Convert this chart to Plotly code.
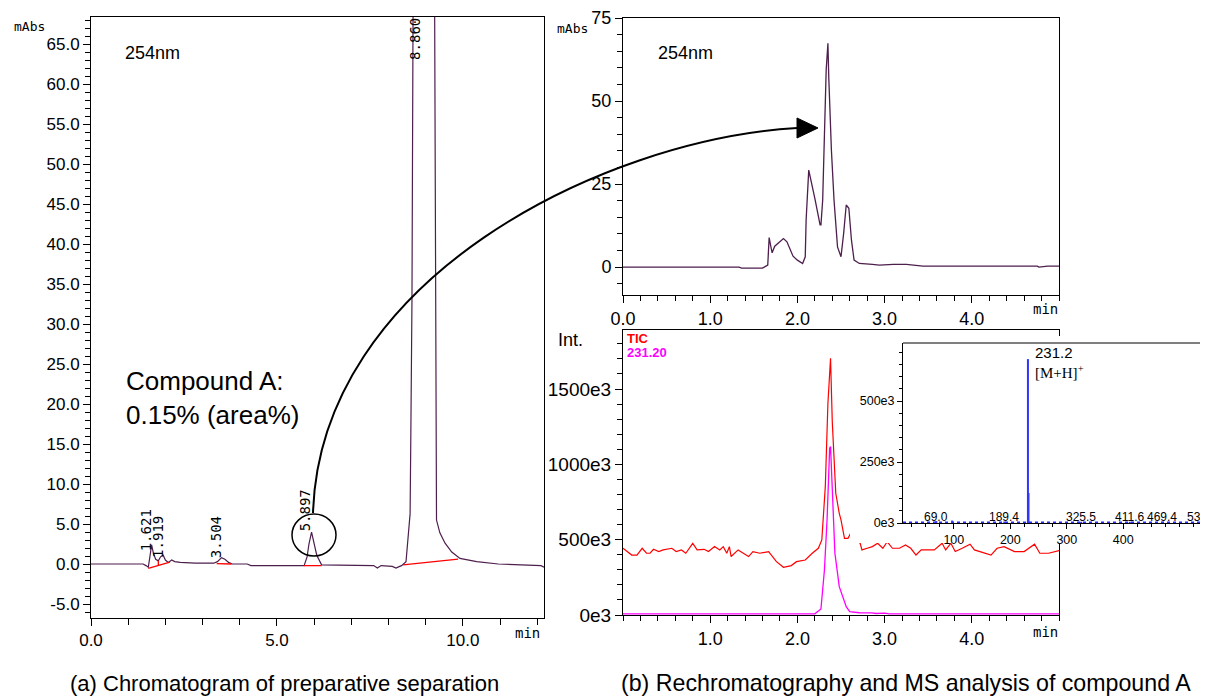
import plotly.graph_objects as go

# ---------------- data ----------------
# (a) preparative chromatogram, 254 nm
left_time = [0.00, 1.40, 1.48, 1.54, 1.58, 1.63, 1.68, 1.74, 1.81, 1.87,
             1.94, 2.00, 2.08, 2.17, 2.25, 2.40, 2.80, 3.30, 3.40, 3.51,
             3.60, 3.70, 3.80, 4.20, 4.30, 5.73, 5.81, 5.86, 5.93, 5.98,
             6.07, 6.20, 7.60, 7.70, 7.80, 8.10, 8.20, 8.30, 8.35, 8.47,
             8.51, 8.58, 8.60, 8.63, 8.66, 8.72, 8.86, 9.05, 9.20, 9.25,
             9.27, 9.29, 9.38, 9.52, 9.70, 9.92, 10.37, 10.95, 12.10, 12.18]
left_abs = [0.0, 0.0, -0.2, -0.4, 0.8, 2.4, 1.3, 0.6, 0.4, 0.9,
            1.1, 0.5, 0.2, 0.5, 0.3, 0.2, 0.1, 0.1, 0.3, 0.8,
            0.6, 0.2, 0.0, 0.0, -0.2, -0.2, 0.9, 2.5, 4.0, 2.8,
            1.1, -0.1, -0.2, -0.5, -0.2, -0.3, -0.5, -0.3, -0.2, 0.3,
            2.2, 6.3, 16.4, 33.0, 70.0, 180.0, 600.0, 420.0, 120.0, 45.0,
            8.0, 5.5, 3.9, 2.6, 1.5, 0.7, 0.3, 0.0, -0.2, -0.4]
# integration baselines (start t, start y, end t, end y)
base_t0 = [1.54, 3.38, 5.72, 8.39]
base_y0 = [-0.55, 0.05, -0.2, -0.1]
base_t1 = [2.12, 3.78, 6.20, 9.87]
base_y1 = [0.25, 0.0, -0.2, 0.6]
drop_t = [1.81]
drop_lo = [-0.18]
drop_hi = [0.4]
peak_rt = [1.621, 1.919, 3.504, 5.897, 8.860]
peak_label_y = [4.25, 3.44, 3.4, 6.75, 65.6]
left_yticks = [-5.0, 0.0, 5.0, 10.0, 15.0, 20.0, 25.0, 30.0, 35.0, 40.0,
               45.0, 50.0, 55.0, 60.0, 65.0]
left_xticks = [0.0, 5.0, 10.0]

# (b) rechromatography UV 254 nm
uv_time = [0.00, 1.33, 1.36, 1.60, 1.66, 1.676, 1.70, 1.71, 1.74, 1.84,
           1.88, 1.95, 2.00, 2.06, 2.09, 2.10, 2.13, 2.16, 2.20, 2.26,
           2.27, 2.29, 2.31, 2.33, 2.35, 2.36, 2.39, 2.42, 2.46, 2.50,
           2.53, 2.56, 2.59, 2.62, 2.65, 2.71, 2.86, 2.94, 3.10, 3.25,
           3.44, 3.54, 4.75, 4.77, 4.87, 5.00]
uv_abs = [0.0, 0.0, -0.3, -0.3, 0.6, 8.9, 5.6, 4.3, 6.3, 8.6,
          7.6, 3.3, 2.1, 1.1, 3.1, 14.2, 29.2, 25.7, 20.7, 12.7,
          12.7, 20.2, 40.3, 59.3, 67.4, 57.0, 35.2, 20.2, 6.1, 3.1,
          10.1, 18.7, 17.7, 8.1, 2.1, 1.1, 0.8, 0.6, 0.8, 0.8,
          0.3, 0.3, 0.3, 0.0, 0.3, 0.3]
uv_yticks = [0, 25, 50, 75]
uv_xticks = [0.0, 1.0, 2.0, 3.0, 4.0]

# (b) MS chromatograms (intensity in e3)
tic_time = [0.00, 0.10, 0.16, 0.22, 0.27, 0.31, 0.35, 0.41, 0.46, 0.56,
            0.61, 0.67, 0.72, 0.80, 0.85, 0.93, 0.98, 1.05, 1.11, 1.15,
            1.19, 1.22, 1.24, 1.32, 1.38, 1.44, 1.49, 1.57, 1.67, 1.70,
            1.76, 1.84, 1.93, 1.99, 2.09, 2.17, 2.24, 2.28, 2.32, 2.35,
            2.38, 2.40, 2.44, 2.48, 2.50, 2.54, 2.58, 2.62, 2.66, 2.72,
            2.74, 2.80, 2.86, 2.92, 2.98, 3.03, 3.09, 3.17, 3.24, 3.30,
            3.36, 3.42, 3.49, 3.57, 3.66, 3.70, 3.76, 3.81, 3.89, 3.98,
            4.03, 4.10, 4.22, 4.29, 4.37, 4.49, 4.60, 4.72, 4.78, 4.88,
            5.00]
tic_int = [443, 398, 398, 443, 410, 410, 436, 421, 432, 443,
           421, 432, 410, 476, 432, 436, 421, 454, 432, 454,
           410, 454, 388, 432, 410, 388, 421, 410, 421, 398,
           354, 317, 328, 354, 365, 410, 443, 498, 852, 1406,
           1705, 1282, 808, 675, 631, 509, 509, 553, 509, 476,
           432, 443, 454, 476, 443, 486, 443, 443, 465, 443,
           398, 432, 432, 432, 476, 432, 476, 421, 443, 470,
           432, 421, 398, 443, 454, 421, 421, 470, 410, 410,
           428]
xic_time = [0.00, 2.20, 2.27, 2.31, 2.34, 2.37, 2.38, 2.40, 2.43, 2.48,
            2.52, 2.56, 2.60, 2.71, 2.85, 2.90, 3.00, 3.05, 5.00]
xic_int = [8, 8, 40, 299, 631, 1107, 1118, 852, 410, 188,
           122, 55, 22, 15, 14, 10, 13, 8, 8]
ms_yticks = [0, 500, 1000, 1500]
ms_ytext = ["0e3", "500e3", "1000e3", "1500e3"]
ms_xticks = [1.0, 2.0, 3.0, 4.0]

# (b) mass spectrum inset (intensity in e3)
spec_mz = [69.0, 97.0, 189.4, 231.2, 232.2, 325.5, 411.6, 469.4, 539.3]
spec_int = [8, 10, 6, 672, 123, 5, 5, 5, 5]
spec_label_mz = [69.0, 189.4, 325.5, 411.6, 469.4, 539.3]
spec_yticks = [0, 250, 500]
spec_ytext = ["0e3", "250e3", "500e3"]
spec_xticks = [100, 200, 300, 400]

captions = ["(a) Chromatogram of preparative separation",
            "(b) Rechromatography and MS analysis of compound A"]

# ---------------- layout helpers ----------------
# the page body adds an 8 px offset, so the figure is 8 px smaller and
# reference pixel positions are shifted by 8 px
OFF = 8
W, H = 1208 - OFF, 698 - OFF
def px(x):
    return (x - OFF) / W
def py(y):
    return 1 - (y - OFF) / H

SANS = "Liberation Sans, Arial, sans-serif"
MONO = "DejaVu Sans Mono, monospace"
UVC = "#4d1f4d"

fig = go.Figure()

# (a) trace
fig.add_trace(go.Scatter(x=left_time, y=left_abs, mode="lines",
                         line=dict(color=UVC, width=1.2), xaxis="x", yaxis="y"))
bx, by = [], []
for t0, y0, t1, y1 in zip(base_t0, base_y0, base_t1, base_y1):
    bx += [t0, t1, None]
    by += [y0, y1, None]
for t, lo, hi in zip(drop_t, drop_lo, drop_hi):
    bx += [t, t, None]
    by += [lo, hi, None]
fig.add_trace(go.Scatter(x=bx, y=by, mode="lines", line=dict(color="red", width=1.3),
                         xaxis="x", yaxis="y"))

# (b) UV
fig.add_trace(go.Scatter(x=uv_time, y=uv_abs, mode="lines",
                         line=dict(color=UVC, width=1.3), xaxis="x2", yaxis="y2"))
# (b) MS chromatograms
fig.add_trace(go.Scatter(x=tic_time, y=tic_int, mode="lines",
                         line=dict(color="#ff0000", width=1.2), xaxis="x3", yaxis="y3"))
fig.add_trace(go.Scatter(x=xic_time, y=xic_int, mode="lines",
                         line=dict(color="#ff00ff", width=1.3), xaxis="x3", yaxis="y3"))
# inset white panel
fig.add_trace(go.Scatter(x=[-0.1, 1.1, 1.1, -0.1, -0.1], y=[-0.1, -0.1, 1.1, 1.1, -0.1],
                         mode="lines", fill="toself", fillcolor="white",
                         line=dict(color="white", width=0), xaxis="x4", yaxis="y4",
                         hoverinfo="skip"))
# inset spectrum
sx, sy = [], []
for m, i in zip(spec_mz, spec_int):
    sx += [m, m, None]
    sy += [0, i, None]
fig.add_trace(go.Scatter(x=[10, 550], y=[3, 3], mode="lines",
                         line=dict(color="#2a2aff", width=1.5, dash="dot"),
                         xaxis="x5", yaxis="y5"))
fig.add_trace(go.Scatter(x=sx, y=sy, mode="lines", line=dict(color="#3333ff", width=2),
                         xaxis="x5", yaxis="y5"))

axis_common = dict(showgrid=False, zeroline=False, showline=True, linecolor="black",
                   linewidth=1, ticks="outside", tickcolor="black", ticklen=7,
                   tickwidth=1, automargin=False)

fig.update_layout(
    template="none",
    width=W, height=H, margin=dict(l=0, r=0, t=0, b=0, pad=0, autoexpand=False),
    paper_bgcolor="white", plot_bgcolor="white", showlegend=False,
    xaxis=dict(axis_common, domain=[px(91), px(544)], range=[0, 12.18], mirror=True,
               tickvals=left_xticks, ticktext=[f"{v:.1f}" for v in left_xticks],
               tickfont=dict(family=SANS, size=17, color="black"),
               minor=dict(dtick=1.0, tick0=0, ticklen=6, ticks="outside", tickcolor="black"),
               anchor="y"),
    yaxis=dict(axis_common, domain=[py(618), py(17)], range=[-6.75, 68.4], mirror=True,
               tickvals=left_yticks, ticktext=[f"{v:.1f}" for v in left_yticks],
               tickfont=dict(family=SANS, size=17, color="black"),
               minor=dict(dtick=1.0, tick0=0, ticklen=5, ticks="outside", tickcolor="black"),
               anchor="x"),
    xaxis2=dict(axis_common, domain=[px(623), px(1059)], range=[0, 5.0], mirror=True,
                tickvals=uv_xticks, ticktext=[f"{v:.1f}" for v in uv_xticks],
                tickfont=dict(family=SANS, size=18, color="black"),
                minor=dict(dtick=0.2, tick0=0, ticklen=5, ticks="outside", tickcolor="black"),
                anchor="y2"),
    yaxis2=dict(axis_common, domain=[py(295), py(18)], range=[-8.4, 75], mirror=True,
                tickvals=uv_yticks, ticktext=[str(v) for v in uv_yticks],
                tickfont=dict(family=SANS, size=18, color="black"),
                minor=dict(dtick=5, tick0=0, ticklen=5, ticks="outside", tickcolor="black"),
                anchor="x2"),
    xaxis3=dict(axis_common, domain=[px(623), px(1059)], range=[0, 5.0], mirror=True,
                tickvals=ms_xticks, ticktext=[f"{v:.1f}" for v in ms_xticks],
                tickfont=dict(family=SANS, size=18, color="black"),
                minor=dict(dtick=0.2, tick0=0, ticklen=5, ticks="outside", tickcolor="black"),
                anchor="y3"),
    yaxis3=dict(axis_common, domain=[py(615), py(330)], range=[0, 1892], mirror=True,
                tickvals=ms_yticks, ticktext=ms_ytext,
                tickfont=dict(family=SANS, size=19, color="black"),
                minor=dict(dtick=100, tick0=0, ticklen=5, ticks="outside", tickcolor="black"),
                anchor="x3"),
    xaxis4=dict(domain=[px(850), 1.0], range=[0, 1], visible=False, anchor="y4",
                automargin=False),
    yaxis4=dict(domain=[py(543), py(336)], range=[0, 1], visible=False, anchor="x4",
                automargin=False),
    xaxis5=dict(axis_common, domain=[px(903), 1.0], range=[10, 550],
                tickvals=spec_xticks, ticktext=[str(v) for v in spec_xticks],
                tickfont=dict(family=SANS, size=12.5, color="black"), ticklen=5,
                minor=dict(dtick=25, tick0=0, ticklen=3, ticks="outside", tickcolor="black"),
                anchor="y5"),
    yaxis5=dict(axis_common, domain=[py(523), py(343)], range=[0, 738],
                tickvals=spec_yticks, ticktext=spec_ytext,
                tickfont=dict(family=SANS, size=12.5, color="black"), ticklen=5,
                minor=dict(dtick=50, tick0=0, ticklen=3, ticks="outside", tickcolor="black"),
                anchor="x5"),
)

ann = []
def txt(x, y, s, size, family=SANS, color="black", xanchor="center", yanchor="middle",
        xref="paper", yref="paper", **kw):
    ann.append(dict(x=x, y=y, text=s, showarrow=False, xref=xref, yref=yref,
                    xanchor=xanchor, yanchor=yanchor,
                    font=dict(family=family, size=size, color=color), **kw))

# (a) texts
txt(px(29), py(27), "mAbs", 13, MONO)
txt(px(123), py(53), "254nm", 18, xanchor="left")
txt(px(124), py(398), "Compound A:<br>0.15% (area%)", 26, xanchor="left", align="left")
txt(px(527), py(633), "min", 14, MONO)
for rt, ly in zip(peak_rt, peak_label_y):
    txt(rt, ly, f"{rt:.3f}", 14, MONO, xref="x", yref="y", textangle=-90, xshift=-5)
# (b) UV texts
txt(px(572), py(28), "mAbs", 13, MONO)
txt(px(656), py(53), "254nm", 18, xanchor="left")
txt(px(1045), py(309), "min", 14, MONO)
# (b) MS texts
txt(px(570), py(340), "Int.", 18)
txt(px(625), py(338), "<b>TIC</b>", 13, color="#ff0000", xanchor="left")
txt(px(625), py(352), "<b>231.20</b>", 13, color="#ff00ff", xanchor="left")
txt(px(1045), py(632), "min", 14, MONO)
# inset texts
txt(231.2, 701, "231.2", 15, xref="x5", yref="y5", xanchor="left", xshift=5)
txt(231.2, 619, "[M+H]<sup>+</sup>", 15, "Liberation Serif, Times New Roman, serif",
    xref="x5", yref="y5", xanchor="left", xshift=5)
for m in spec_label_mz:
    txt(m, 0, f"{m:.1f}", 12, xref="x5", yref="y5", yanchor="bottom", yshift=-3)
# captions
txt(px(284), py(683), captions[0], 22)
txt(px(906), py(683), captions[1], 23.2)

fig.update_layout(annotations=ann)

# circle + curved arrow + inset top border
def P(x, y):
    return f"{px(x):.5f},{py(y):.5f}"

shapes = [
    dict(type="circle", xref="paper", yref="paper", x0=px(292), x1=px(336),
         y0=py(556), y1=py(514), line=dict(color="black", width=1.5)),
    dict(type="path", xref="paper", yref="paper",
         path=f"M {P(313, 513)} C {P(320, 280)} {P(600, 140)} {P(797, 128)}",
         line=dict(color="black", width=2)),
    dict(type="path", xref="paper", yref="paper",
         path=f"M {P(797, 118)} L {P(818, 128)} L {P(797, 138)} Z",
         fillcolor="black", line=dict(color="black", width=1)),
    dict(type="line", xref="paper", yref="paper", x0=px(903), x1=1.0,
         y0=py(343), y1=py(343), line=dict(color="black", width=1)),
]
fig.update_layout(shapes=shapes)

fig.write_html("out.html")
